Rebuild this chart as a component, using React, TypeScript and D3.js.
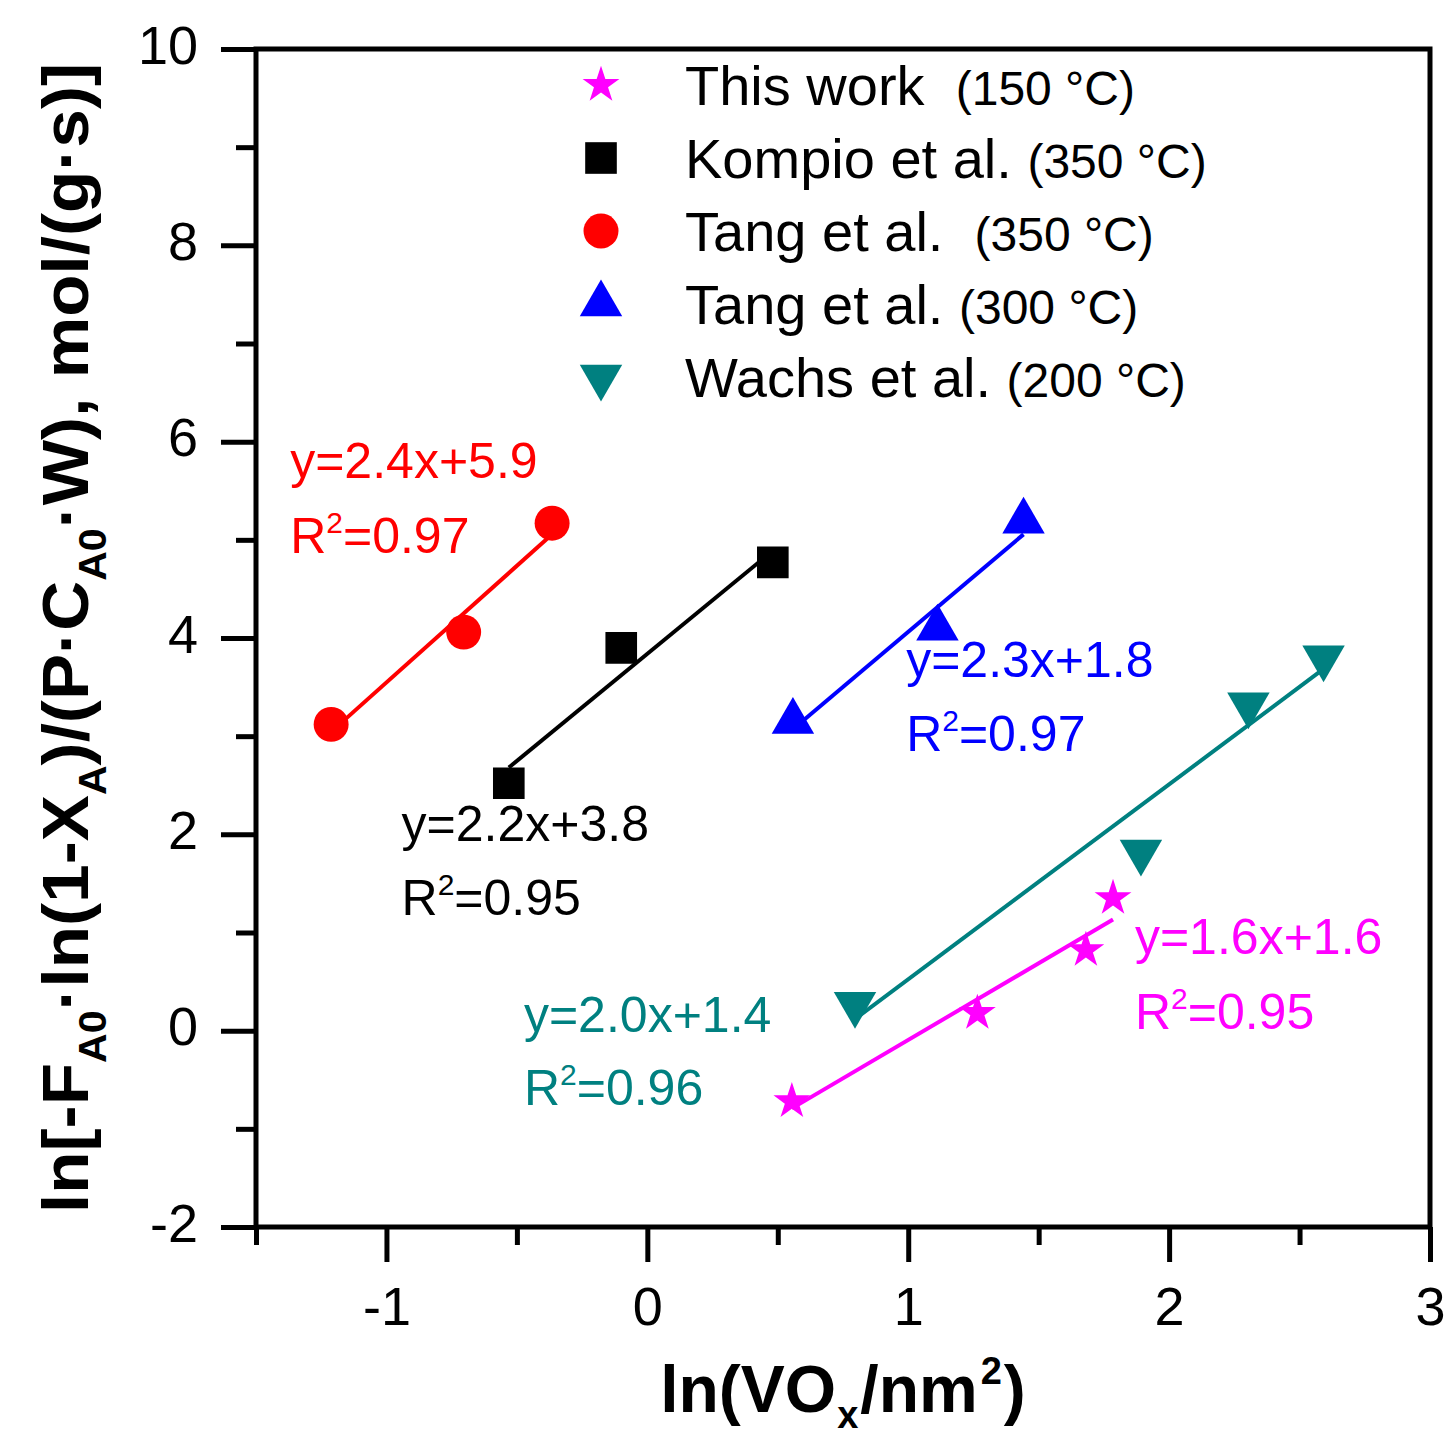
import React, { useEffect, useRef } from "react";
import * as d3 from "d3";

// Series: ln(VOx/nm2) vs ln[rate]
const thisWorkX = [0.554, 1.265, 1.681, 1.785];
const thisWorkY = [-0.72, 0.18, 0.82, 1.35];
const kompioX = [-0.531, -0.1, 0.481];
const kompioY = [2.52, 3.9, 4.77];
const tang350X = [-1.212, -0.704, -0.365];
const tang350Y = [3.12, 4.06, 5.17];
const tang300X = [0.558, 1.112, 1.442];
const tang300Y = [3.15, 4.1, 5.19];
const wachsX = [0.796, 1.892, 2.304, 2.592];
const wachsY = [0.27, 1.82, 3.32, 3.8];

const seriesNames = ["This work  ", "Kompio et al. ", "Tang et al.  ", "Tang et al. ", "Wachs et al. "];
const seriesTemps = ["(150 °C)", "(350 °C)", "(350 °C)", "(300 °C)", "(200 °C)"];
const seriesColors = ["#ff00ff", "#000000", "#ff0000", "#0000ff", "#008080"];

// fit annotations (text as printed) and where they sit, in data units
const eqLabels = ["y=1.6x+1.6", "y=2.2x+3.8", "y=2.4x+5.9", "y=2.3x+1.8", "y=2.0x+1.4"];
const r2Labels = ["0.95", "0.95", "0.97", "0.97", "0.96"];
const eqAnchorX = [1.869, -0.942, -1.369, 0.992, -0.473];
const eqAnchorY = [0.776, 1.93, 5.63, 3.6, -0.01];
const r2AnchorY = [0.02, 1.18, 4.87, 2.85, -0.755];

const xMajor = [-1, 0, 1, 2, 3];
const xMinor = [-1.5, -0.5, 0.5, 1.5, 2.5];
const yMajor = [-2, 0, 2, 4, 6, 8, 10];
const yMinor = [-1, 1, 3, 5, 7, 9];

const FONT = "Arial, 'Liberation Sans', Helvetica, sans-serif";

const fitLine = (xs: number[], ys: number[]) => {
  const mx = d3.mean(xs) as number;
  const my = d3.mean(ys) as number;
  const sxy = d3.sum(xs, (v, i) => (v - mx) * (ys[i] - my));
  const sxx = d3.sum(xs, (v) => (v - mx) ** 2);
  const b = sxy / sxx;
  const a = my - b * mx;
  const x0 = d3.min(xs) as number;
  const x1 = d3.max(xs) as number;
  return [
    [x0, a + b * x0],
    [x1, a + b * x1],
  ];
};

const App = () => {
  const ref = useRef<SVGSVGElement>(null);

  useEffect(() => {
    const svg = d3.select(ref.current);
    svg.selectAll("*").remove();

    const x = d3.scaleLinear().domain([-1.5, 3]).range([256, 1430]);
    const y = d3.scaleLinear().domain([-2, 10]).range([1227, 49]);

    const data = [
      { xs: thisWorkX, ys: thisWorkY, sym: d3.symbolStar, size: 420, rot: 0 },
      { xs: kompioX, ys: kompioY, sym: d3.symbolSquare, size: 1000, rot: 0 },
      { xs: tang350X, ys: tang350Y, sym: d3.symbolCircle, size: 960, rot: 0 },
      { xs: tang300X, ys: tang300Y, sym: d3.symbolTriangle, size: 780, rot: 0 },
      { xs: wachsX, ys: wachsY, sym: d3.symbolTriangle, size: 780, rot: 180 },
    ];

    // axes
    const styleAxis = (g: any) => {
      g.select(".domain").remove();
      g.selectAll("line").attr("stroke", "#000").attr("stroke-width", 5);
      g.selectAll("text").attr("font-family", FONT).attr("font-size", 54).attr("fill", "#000");
    };

    svg
      .append("g")
      .attr("transform", `translate(0,${y(-2)})`)
      .call(d3.axisBottom(x).tickValues(xMinor).tickSize(18).tickFormat(() => ""))
      .call(styleAxis);
    svg
      .append("g")
      .attr("transform", `translate(0,${y(-2)})`)
      .call(d3.axisBottom(x).tickValues(xMajor).tickSize(35).tickPadding(25).tickFormat((d) => String(d)))
      .call(styleAxis);
    svg
      .append("g")
      .attr("transform", `translate(${x(-1.5)},0)`)
      .call(d3.axisLeft(y).tickValues(yMinor).tickSize(20).tickFormat(() => ""))
      .call(styleAxis);
    const yAx = svg
      .append("g")
      .attr("transform", `translate(${x(-1.5)},0)`)
      .call(d3.axisLeft(y).tickValues(yMajor).tickSize(35).tickPadding(23).tickFormat((d) => String(d)))
      .call(styleAxis);
    yAx.selectAll("text").attr("dy", "0.26em");

    // frame
    svg
      .append("rect")
      .attr("x", x(-1.5))
      .attr("y", y(10))
      .attr("width", x(3) - x(-1.5))
      .attr("height", y(-2) - y(10))
      .attr("fill", "none")
      .attr("stroke", "#000")
      .attr("stroke-width", 5);

    // markers
    data.forEach((s, i) => {
      const path = d3.symbol().type(s.sym).size(s.size);
      svg
        .append("g")
        .selectAll("path")
        .data(s.xs.map((v, j) => [v, s.ys[j]]))
        .enter()
        .append("path")
        .attr("d", path() as string)
        .attr("transform", (d) => `translate(${x(d[0])},${y(d[1])}) rotate(${s.rot})`)
        .attr("fill", seriesColors[i]);
    });

    // fit lines
    const line = d3
      .line<number[]>()
      .x((d) => x(d[0]))
      .y((d) => y(d[1]));
    data.forEach((s, i) => {
      svg
        .append("path")
        .attr("d", line(fitLine(s.xs, s.ys)) as string)
        .attr("stroke", seriesColors[i])
        .attr("stroke-width", 4)
        .attr("fill", "none");
    });

    // equation annotations
    data.forEach((_, i) => {
      svg
        .append("text")
        .attr("x", x(eqAnchorX[i]))
        .attr("y", y(eqAnchorY[i]))
        .attr("font-family", FONT)
        .attr("font-size", 50)
        .attr("fill", seriesColors[i])
        .text(eqLabels[i]);
      const r2 = svg
        .append("text")
        .attr("x", x(eqAnchorX[i]))
        .attr("y", y(r2AnchorY[i]))
        .attr("font-family", FONT)
        .attr("font-size", 50)
        .attr("fill", seriesColors[i]);
      r2.append("tspan").text("R");
      r2.append("tspan").attr("font-size", 30).attr("dy", -20).text("2");
      r2.append("tspan").attr("dy", 20).text("=" + r2Labels[i]);
    });

    // legend
    const legend = svg.append("g").attr("transform", "translate(601,85)");
    data.forEach((s, i) => {
      const row = legend.append("g").attr("transform", `translate(0,${i * 73})`);
      row
        .append("path")
        .attr("d", d3.symbol().type(s.sym).size(s.size)() as string)
        .attr("transform", `rotate(${s.rot})`)
        .attr("fill", seriesColors[i]);
      const t = row
        .append("text")
        .attr("x", 84)
        .attr("y", 20)
        .attr("font-family", FONT)
        .attr("fill", "#000")
        .style("white-space", "pre");
      t.append("tspan").attr("font-size", 56).text(seriesNames[i]);
      t.append("tspan").attr("font-size", 48).text(seriesTemps[i]);
    });

    // x title
    const xt = svg
      .append("text")
      .attr("x", (x(-1.5) + x(3)) / 2)
      .attr("y", 1412)
      .attr("text-anchor", "middle")
      .attr("font-family", FONT)
      .attr("font-weight", "bold")
      .attr("font-size", 66);
    xt.append("tspan").text("ln(VO");
    xt.append("tspan").attr("font-size", 38).attr("dy", 16).attr("dx", 1).text("x");
    xt.append("tspan").attr("dy", -16).attr("dx", 2).text("/nm");
    xt.append("tspan").attr("font-size", 38).attr("dy", -28).attr("dx", 3).text("2");
    xt.append("tspan").attr("dy", 28).attr("dx", 2).text(")");

    // y title
    const yt = svg
      .append("text")
      .attr("transform", `translate(88,${(y(-2) + y(10)) / 2}) rotate(-90)`)
      .attr("text-anchor", "middle")
      .attr("font-family", FONT)
      .attr("font-weight", "bold")
      .attr("font-size", 64)
      .attr("textLength", 1150)
      .attr("lengthAdjust", "spacingAndGlyphs");
    yt.append("tspan").text("ln[-F");
    yt.append("tspan").attr("font-size", 38).attr("dy", 18).text("A0");
    yt.append("tspan").attr("dy", -18).text("·ln(1-X");
    yt.append("tspan").attr("font-size", 38).attr("dy", 18).text("A");
    yt.append("tspan").attr("dy", -18).text(")/(P·C");
    yt.append("tspan").attr("font-size", 38).attr("dy", 18).text("A0");
    yt.append("tspan").attr("dy", -18).text("·W), mol/(g·s)]");
  }, []);

  return (
    <svg
      ref={ref}
      width={1450}
      height={1442}
      style={{ position: "absolute", left: 0, top: 0, background: "#fff" }}
    />
  );
};

export default App;
